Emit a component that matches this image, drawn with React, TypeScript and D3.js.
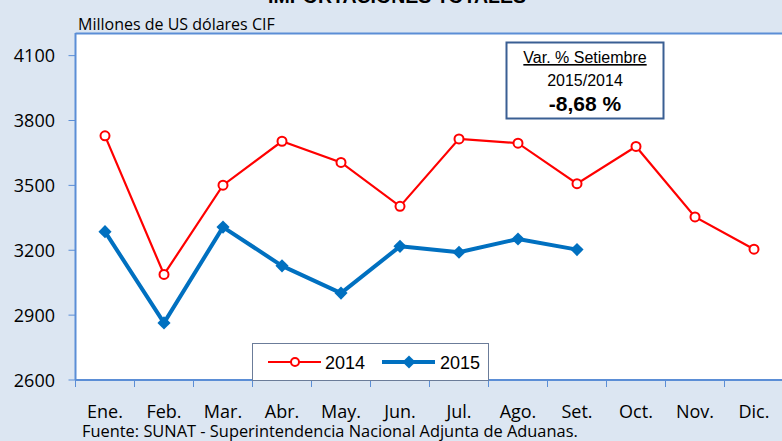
import React from "react";
import * as d3 from "d3";

const months = ["Ene.", "Feb.", "Mar.", "Abr.", "May.", "Jun.", "Jul.", "Ago.", "Set.", "Oct.", "Nov.", "Dic."];
const values2014 = [3729, 3088, 3501, 3704, 3606, 3403, 3715, 3695, 3508, 3680, 3354, 3205];
const values2015 = [3286, 2864, 3307, 3128, 3002, 3218, 3191, 3252, 3203];
const yTicks = [2600, 2900, 3200, 3500, 3800, 4100];
const seriesNames = ["2014", "2015"];

const W = 782;
const H = 441;
const plotLeft = 75.5;
const plotRight = 783.5;
const plotTop = 34;
const plotBottom = 380;

export default function App() {
  const x = d3.scaleBand<string>().domain(months).range([plotLeft, plotRight]);
  const y = d3.scaleLinear().domain([2600, 4200]).range([plotBottom, plotTop]);
  const cx = (i: number) => (x(months[i]) as number) + x.bandwidth() / 2;
  const line = d3.line<number>().x((_, i) => cx(i)).y((d) => y(d));
  const diamond = d3.symbol().type(d3.symbolDiamond2).size(110)();
  const sans = "'Open Sans', Lato, sans-serif";
  const arial = "'Liberation Sans', Arial, sans-serif";
  const axisColor = "#5B8ED6";

  return (
    <svg width={W} height={H} style={{ position: "absolute", left: 0, top: 0 }}>
      <rect x={0} y={0} width={W} height={H} fill="#DCE6F2" />
      <text x={397} y={3} textAnchor="middle" fontFamily={arial} fontWeight="bold" fontSize={19.5} fill="#000">
        IMPORTACIONES TOTALES
      </text>
      <rect x={plotLeft} y={plotTop} width={plotRight - plotLeft} height={plotBottom - plotTop} fill="#fff" />
      <line x1={plotLeft} x2={W} y1={plotTop - 0.5} y2={plotTop - 0.5} stroke={axisColor} strokeWidth={2} />
      <text x={78} y={30} fontFamily={sans} fontSize={16} fill="#000">Millones de US dólares CIF</text>

      {/* Y axis */}
      <line x1={plotLeft} x2={plotLeft} y1={plotTop - 1} y2={plotBottom} stroke={axisColor} strokeWidth={2} />
      {yTicks.map((t) => (
        <g key={t}>
          <line x1={plotLeft - 7} x2={plotLeft} y1={y(t)} y2={y(t)} stroke={axisColor} strokeWidth={1} />
          <text x={55} y={y(t) + 6.5} textAnchor="end" fontFamily={sans} fontSize={18} fill="#000">{t}</text>
        </g>
      ))}

      {/* X axis */}
      <line x1={plotLeft} x2={W} y1={plotBottom} y2={plotBottom} stroke={axisColor} strokeWidth={2} />
      {months.map((m, i) => (
        <g key={m}>
          <line x1={(x(m) as number)} x2={(x(m) as number)} y1={plotBottom} y2={plotBottom + 7} stroke={axisColor} strokeWidth={1} />
          <text x={cx(i)} y={418} textAnchor="middle" fontFamily={sans} fontSize={18} fill="#000">{m}</text>
        </g>
      ))}
      <text x={82} y={437} fontFamily={sans} fontSize={16.4} fill="#000">
        Fuente: SUNAT - Superintendencia Nacional Adjunta de Aduanas.
      </text>

      {/* Series 2014 */}
      <path d={line(values2014) || ""} fill="none" stroke="#FF0000" strokeWidth={2.2} />
      {values2014.map((v, i) => (
        <circle key={i} cx={cx(i)} cy={y(v)} r={4.5} fill="#fff" stroke="#FF0000" strokeWidth={2} />
      ))}

      {/* Series 2015 */}
      <path d={line(values2015) || ""} fill="none" stroke="#0070C0" strokeWidth={4} strokeLinejoin="round" />
      {values2015.map((v, i) => (
        <path key={i} d={diamond || ""} transform={`translate(${cx(i)},${y(v)})`} fill="#0070C0" />
      ))}

      {/* Legend */}
      <rect x={252.5} y={343.5} width={236} height={37} fill="#fff" stroke="#6B7C99" strokeWidth={1} />
      <line x1={268} x2={321} y1={362} y2={362} stroke="#FF0000" strokeWidth={2.2} />
      <circle cx={295} cy={362} r={4} fill="#fff" stroke="#FF0000" strokeWidth={2} />
      <text x={325} y={368.5} fontFamily={arial} fontSize={18} fill="#000">{seriesNames[0]}</text>
      <line x1={382} x2={435} y1={362} y2={362} stroke="#0070C0" strokeWidth={4} />
      <path d={diamond || ""} transform="translate(409,362)" fill="#0070C0" />
      <text x={440} y={368.5} fontFamily={arial} fontSize={18} fill="#000">{seriesNames[1]}</text>

      {/* Var box */}
      <rect x={506.5} y={42.5} width={157} height={76} fill="#fff" stroke="#3A5F93" strokeWidth={2} />
      <text x={585} y={63} textAnchor="middle" fontFamily={arial} fontSize={16} fill="#000" textDecoration="underline">
        Var. % Setiembre
      </text>
      <text x={585} y={86} textAnchor="middle" fontFamily={arial} fontSize={16} fill="#000">2015/2014</text>
      <text x={585} y={111} textAnchor="middle" fontFamily={arial} fontSize={21} fontWeight="bold" fill="#000">-8,68 %</text>
    </svg>
  );
}
